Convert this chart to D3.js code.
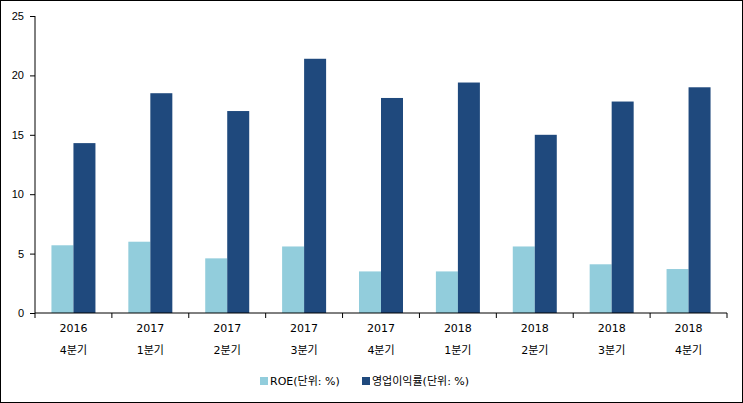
<!DOCTYPE html>
<html><head><meta charset="utf-8">
<script src="https://cdn.jsdelivr.net/npm/d3@7"></script>
<style>body{margin:0;background:#fff}</style></head>
<body><div id="chart"></div>
<script>
const years = ['2016','2017','2017','2017','2017','2018','2018','2018','2018'];
const quarters = ['4분기','1분기','2분기','3분기','4분기','1분기','2분기','3분기','4분기'];
const roe = [5.7, 6.0, 4.6, 5.6, 3.5, 3.5, 5.6, 4.1, 3.7];
const opMargin = [14.3, 18.5, 17.0, 21.4, 18.1, 19.4, 15.0, 17.8, 19.0];
const yTicks = [0, 5, 10, 15, 20, 25];
const seriesNames = ['ROE(단위: %)', '영업이익률(단위: %)'];
const colors = ['#92cddc', '#1f497d'];

const W = 743, H = 403;
const svg = d3.select('#chart').append('svg').attr('width', W).attr('height', H)
  .style('font-family', '"DejaVu Sans", "Noto Sans CJK KR", sans-serif');
svg.append('rect').attr('x', 0.5).attr('y', 0.5).attr('width', W - 1).attr('height', H - 1)
  .attr('fill', '#fff').attr('stroke', '#000');

const mLeft = 35, mRight = 727, mTop = 16, mBottom = 313;
const x = d3.scaleBand().domain(d3.range(9)).range([mLeft, mRight]);
const y = d3.scaleLinear().domain([0, 25]).range([mBottom, mTop]);
const bw = 22;

const yAxis = svg.append('g').attr('transform', `translate(${mLeft},0)`)
  .call(d3.axisLeft(y).tickValues(yTicks).tickSize(5).tickPadding(6));
yAxis.selectAll('text').attr('font-size', 11).attr('fill', '#000');
yAxis.selectAll('line,path').attr('stroke', '#000');
yAxis.select('.domain').attr('d', `M0,${mTop}V${mBottom}`);

[roe, opMargin].forEach((s, k) => {
  svg.append('g').selectAll('rect').data(s).enter().append('rect')
    .attr('x', (d, i) => x(i) + x.bandwidth() / 2 - bw + k * bw)
    .attr('y', d => y(d))
    .attr('width', bw)
    .attr('height', d => mBottom - y(d))
    .attr('fill', colors[k]);
});

svg.append('line').attr('x1', mLeft).attr('x2', mRight).attr('y1', mBottom).attr('y2', mBottom).attr('stroke', '#000');
d3.range(10).forEach(i => {
  const xx = mLeft + i * x.bandwidth();
  svg.append('line').attr('x1', xx).attr('x2', xx).attr('y1', mBottom).attr('y2', mBottom + 5).attr('stroke', '#000');
});
const lab = svg.append('g').attr('font-size', 11).attr('text-anchor', 'middle');
years.forEach((yr, i) => {
  const cx = x(i) + x.bandwidth() / 2;
  lab.append('text').attr('x', cx).attr('y', 332).text(yr);
  lab.append('text').attr('x', cx).attr('y', 354).text(quarters[i]);
});

const leg = svg.append('g').attr('font-size', 11);
const lx = [260, 362];
seriesNames.forEach((n, k) => {
  leg.append('rect').attr('x', lx[k]).attr('y', 377).attr('width', 8).attr('height', 8).attr('fill', colors[k]);
  leg.append('text').attr('x', lx[k] + 10).attr('y', 385).text(n);
});
</script></body></html>
